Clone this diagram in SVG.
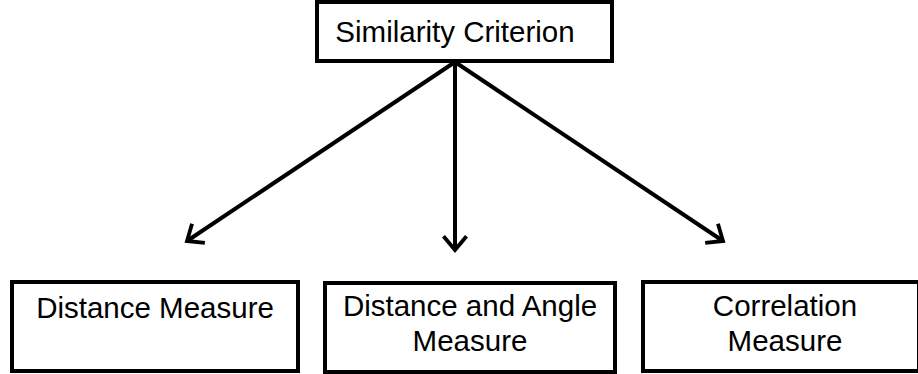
<svg xmlns="http://www.w3.org/2000/svg" width="918" height="374" viewBox="0 0 918 374">
<style>
.box{fill:#fff;stroke:#000;stroke-width:4}
.t{font-family:"Liberation Sans","Open Sans",sans-serif;font-size:29.5px;fill:#000;text-anchor:middle}
.c{stroke:#000;stroke-width:4;fill:none;marker-end:url(#ah)}
</style>
<defs>
<marker id="ah" markerWidth="8" markerHeight="8" viewBox="-8 -5 10 10" refX="0" refY="0" orient="auto" markerUnits="strokeWidth">
<path d="M-4.3,-3.6 L0,0 L-4.3,3.6" fill="none" stroke="#000" stroke-width="1.2" stroke-linejoin="miter"/>
</marker>
</defs>
<g id="connectors">
<line class="c" x1="455" y1="62" x2="187" y2="241"/>
<line class="c" x1="455" y1="62" x2="455" y2="250"/>
<line class="c" x1="455" y1="62" x2="723" y2="241"/>
</g>
<g id="n-top">
<rect class="box" x="317" y="2" width="295" height="59"/>
<text class="t" x="455" y="42">Similarity Criterion</text>
</g>
<g id="n-distance">
<rect class="box" x="12" y="282" width="286" height="89"/>
<text class="t" x="155" y="318">Distance Measure</text>
</g>
<g id="n-distangle">
<rect class="box" x="325" y="283" width="290" height="89"/>
<text class="t" x="470" y="316">Distance and Angle</text>
<text class="t" x="470" y="351">Measure</text>
</g>
<g id="n-correlation">
<rect class="box" x="643" y="282" width="276" height="89"/>
<text class="t" x="785" y="316">Correlation</text>
<text class="t" x="785" y="351">Measure</text>
</g>
</svg>
